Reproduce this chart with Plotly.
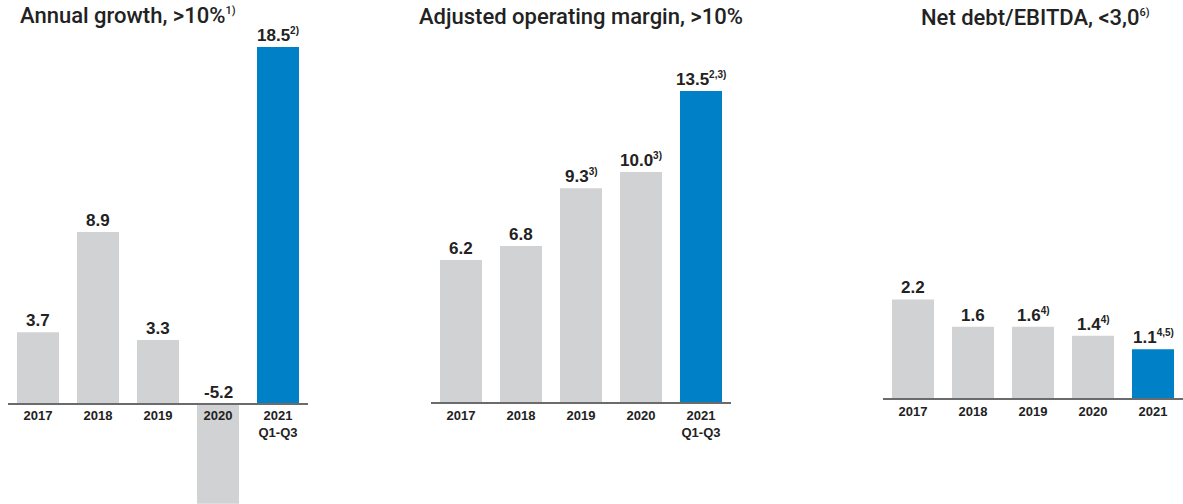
import plotly.graph_objects as go

# ---- data ----
growth_cats = ["2017", "2018", "2019", "2020", "2021<br>Q1-Q3"]
growth = [3.7, 8.9, 3.3, -5.2, 18.5]
growth_notes = ["", "", "", "", "2)"]

margin_cats = ["2017", "2018", "2019", "2020", "2021<br>Q1-Q3"]
margin = [6.2, 6.8, 9.3, 10.0, 13.5]
margin_notes = ["", "", "3)", "3)", "2,3)"]

debt_cats = ["2017", "2018", "2019", "2020", "2021"]
debt = [2.2, 1.6, 1.6, 1.4, 1.1]
debt_notes = ["", "", "4)", "4)", "4,5)"]

title_texts = ["Annual growth, >10%", "Adjusted operating margin, >10%", "Net debt/EBITDA, <3,0"]
title_notes = ["1)", "", "6)"]

GREY = "#d1d2d4"
BLUE = "#0080c6"
TEXT = "#222222"
FONT = "Liberation Sans"
TFONT = "Roboto"


def sup(note, px):
    return f"<sup><span style='font-size:{px}px'>{note}</span></sup>" if note else ""


W, H = 1183, 504
panels = [
    dict(cats=growth_cats, vals=growth, notes=growth_notes, x0=8, x1=308, base=403.5, scale=19.27,
         tx=18, ty=15.5),
    dict(cats=margin_cats, vals=margin, notes=margin_notes, x0=431, x1=731, base=403.3, scale=23.13,
         tx=417, ty=16.5),
    dict(cats=debt_cats, vals=debt, notes=debt_notes, x0=883, x1=1183, base=399.3, scale=45.4,
         tx=919, ty=17.5),
]

fig = go.Figure()
annotations = []
layout = {}
for i, p in enumerate(panels, start=1):
    xa = "x" if i == 1 else f"x{i}"
    ya = "y" if i == 1 else f"y{i}"
    colors = [GREY] * (len(p["vals"]) - 1) + [BLUE]
    fig.add_trace(go.Bar(x=p["cats"], y=p["vals"], marker=dict(color=colors, line=dict(width=0)),
                         xaxis=xa, yaxis=ya, hoverinfo="skip", showlegend=False))
    ymin = -(H - p["base"]) / p["scale"]
    ymax = p["base"] / p["scale"]
    layout[f"xaxis{'' if i == 1 else i}"] = dict(
        domain=[p["x0"] / W, p["x1"] / W], anchor="free", position=1 - p["base"] / H,
        type="category", range=[-0.5, len(p["cats"]) - 0.5],
        showline=True, linecolor="#6b6b6b", linewidth=2, ticks="", showgrid=False, zeroline=False,
        tickfont=dict(family=FONT, size=13, color=TEXT, weight="bold"), fixedrange=True)
    layout[f"yaxis{'' if i == 1 else i}"] = dict(
        domain=[0, 1], anchor=xa, range=[ymin, ymax], visible=False, fixedrange=True)
    for j, (v, n) in enumerate(zip(p["vals"], p["notes"])):
        txt = f"{v:.1f}" + sup(n, 10)
        annotations.append(dict(x=j, y=max(v, 0), xref=xa, yref=ya, text=txt, showarrow=False,
                                xanchor="center", yanchor="bottom", yshift=0,
                                font=dict(family=FONT, size=17, color=TEXT, weight="bold")))
    annotations.append(dict(x=p["tx"] / W, y=1 - p["ty"] / H, xref="paper", yref="paper",
                            text=title_texts[i - 1] + sup(title_notes[i - 1], 11),
                            showarrow=False, xanchor="left", yanchor="middle",
                            font=dict(family=TFONT, size=22, color=TEXT, weight=500)))

fig.update_layout(**layout)
fig.update_layout(width=W, height=H, margin=dict(l=0, r=0, t=0, b=0), bargap=0.3,
                  plot_bgcolor="white", paper_bgcolor="white", annotations=annotations)
fig.write_html("out.html")
